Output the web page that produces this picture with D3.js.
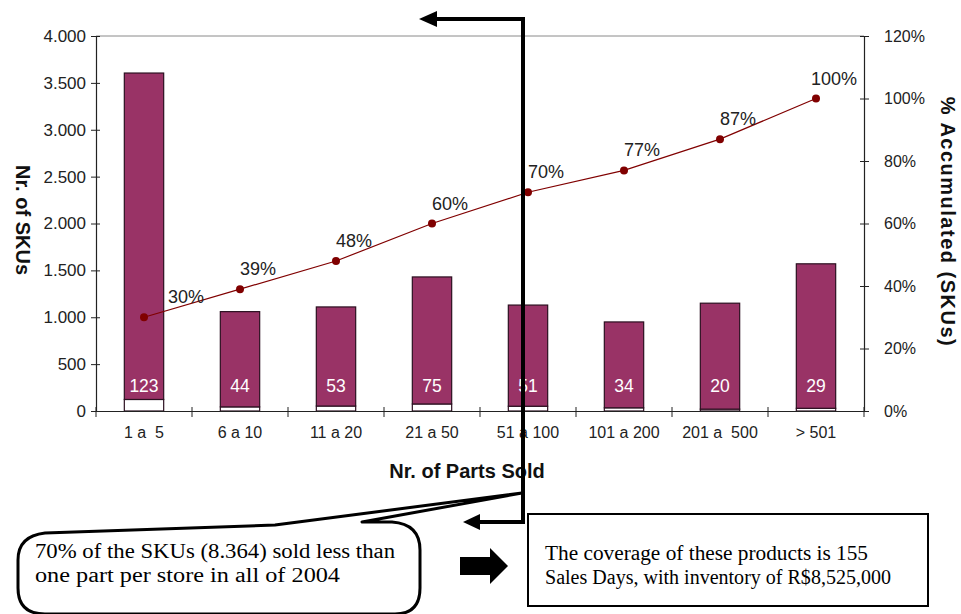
<!DOCTYPE html>
<html>
<head>
<meta charset="utf-8">
<script src="https://cdn.jsdelivr.net/npm/d3@7"></script>
<style>
  body { margin: 0; background: #fff; }
  svg { display: block; font-family: "Liberation Sans", Arial, sans-serif; }
</style>
</head>
<body>
<svg id="chart" width="961" height="614"></svg>
<script>
// -------------- DATA ----------------- //
const categories = ["1 a  5", "6 a 10", "11 a 20", "21 a 50", "51 a 100", "101 a 200", "201 a  500", "> 501"];
const soldSKUs = [123, 44, 53, 75, 51, 34, 20, 29];            // white part, labelled
const otherSKUs = [3482, 1016, 1057, 1355, 1079, 916, 1130, 1541]; // purple part
const accumulated = [0.30, 0.39, 0.48, 0.60, 0.70, 0.77, 0.87, 1.00];
const leftTicks = [0, 500, 1000, 1500, 2000, 2500, 3000, 3500, 4000];
const rightTicks = [0, 0.2, 0.4, 0.6, 0.8, 1.0, 1.2];

// -------------- SETUP ----------------- //
const svg = d3.select("#chart");
const M = { left: 96, right: 864, top: 36, bottom: 411 };
const purple = "#993366";
const lineColor = "#800000";

const x = d3.scaleBand().domain(categories).range([M.left, M.right]).paddingInner(0.59).paddingOuter(0.295);
const y = d3.scaleLinear().domain([0, 4000]).range([M.bottom, M.top]);
const y2 = d3.scaleLinear().domain([0, 1.2]).range([M.bottom, M.top]);
const step = (M.right - M.left) / categories.length;
const cx = d => M.left + step * (categories.indexOf(d) + 0.5);

const ptFormat = d3.formatLocale({ decimal: ",", thousands: ".", grouping: [3], currency: ["R$", ""] }).format(",d");

// plot area top border
svg.append("line").attr("x1", M.left).attr("x2", M.right).attr("y1", M.top).attr("y2", M.top)
  .attr("stroke", "#8a8a8a").attr("stroke-width", 1);

// -------------- BARS ----------------- //
const rows = categories.map((c, i) => ({ cat: c, sold: soldSKUs[i], other: otherSKUs[i] }));
const stacked = d3.stack().keys(["sold", "other"])(rows);
const fills = { sold: "#ffffff", other: purple };

stacked.forEach(layer => {
  svg.append("g").selectAll("rect").data(layer).join("rect")
    .attr("x", d => cx(d.data.cat) - x.bandwidth() / 2)
    .attr("width", x.bandwidth())
    .attr("y", d => y(d[1]))
    .attr("height", d => y(d[0]) - y(d[1]))
    .attr("fill", fills[layer.key])
    .attr("stroke", "#2b1020")
    .attr("stroke-width", 1.2);
});

svg.append("g").selectAll("text").data(rows).join("text")
  .attr("x", d => cx(d.cat))
  .attr("y", y(0) - 19)
  .attr("text-anchor", "middle")
  .attr("fill", "#fff")
  .attr("font-size", 17.5)
  .text(d => d.sold);

// -------------- AXES ----------------- //
const gl = svg.append("g").attr("transform", `translate(${M.left},0)`)
  .call(d3.axisLeft(y).tickValues(leftTicks).tickFormat(ptFormat).tickSize(0).tickPadding(10));
gl.select(".domain").attr("stroke", "#222").attr("stroke-width", 1.2);
gl.selectAll(".tick line").attr("x1", -5).attr("x2", 4).attr("stroke", "#222");
gl.selectAll(".tick text").attr("font-size", 17).attr("fill", "#222").attr("font-family", "Liberation Sans, Arial");

const gr = svg.append("g").attr("transform", `translate(${M.right},0)`)
  .call(d3.axisRight(y2).tickValues(rightTicks).tickFormat(d3.format(".0%")).tickSize(0).tickPadding(20));
gr.select(".domain").attr("stroke", "#222").attr("stroke-width", 1.2);
gr.selectAll(".tick line").attr("x1", -4).attr("x2", 5).attr("stroke", "#222");
gr.selectAll(".tick text").attr("font-size", 16).attr("fill", "#222").attr("font-family", "Liberation Sans, Arial");

const gb = svg.append("g").attr("transform", `translate(0,${M.bottom})`)
  .call(d3.axisBottom(x).tickSize(0).tickPadding(16));
gb.select(".domain").attr("stroke", "#222").attr("stroke-width", 1.2);
gb.selectAll(".tick").attr("transform", d => `translate(${cx(d)},0)`);
gb.selectAll(".tick text").attr("font-size", 16).attr("fill", "#222")
  .attr("font-family", "Liberation Sans, Arial").style("white-space", "pre");
// tick marks between categories
gb.append("g").selectAll("line").data(d3.range(categories.length + 1)).join("line")
  .attr("x1", i => M.left + i * step).attr("x2", i => M.left + i * step)
  .attr("y1", -4).attr("y2", 6).attr("stroke", "#222");

// axis titles
svg.append("text").attr("transform", "translate(16,220) rotate(90)")
  .attr("text-anchor", "middle").attr("font-weight", "bold").attr("font-size", 20).attr("fill", "#111")
  .text("Nr. of SKUs");
svg.append("text").attr("transform", "translate(941,222) rotate(90)")
  .attr("text-anchor", "middle").attr("font-weight", "bold").attr("font-size", 20).attr("fill", "#111")
  .attr("letter-spacing", 1.5)
  .text("% Accumulated (SKUs)");
svg.append("text").attr("x", 467).attr("y", 478)
  .attr("text-anchor", "middle").attr("font-weight", "bold").attr("font-size", 20).attr("fill", "#111")
  .text("Nr. of Parts Sold");

// -------------- LINE ----------------- //
const pts = categories.map((c, i) => ({ cat: c, v: accumulated[i] }));
svg.append("path").datum(pts)
  .attr("fill", "none").attr("stroke", lineColor).attr("stroke-width", 1.2)
  .attr("d", d3.line().x(d => cx(d.cat)).y(d => y2(d.v)));
svg.append("g").selectAll("circle").data(pts).join("circle")
  .attr("cx", d => cx(d.cat)).attr("cy", d => y2(d.v)).attr("r", 4).attr("fill", lineColor);
svg.append("g").selectAll("text").data(pts).join("text")
  .attr("x", (d, i) => cx(d.cat) + (i === 0 ? 42 : 18))
  .attr("y", d => y2(d.v) - 14)
  .attr("text-anchor", "middle").attr("font-size", 18).attr("fill", "#222")
  .text(d => d3.format(".0%")(d.v));

// -------------- ANNOTATIONS ----------------- //
const notes = svg.append("g").attr("font-family", "Liberation Serif, Times New Roman, serif");

// speech bubble
notes.append("path")
  .attr("d", "M 275,525 L 522,493 L 362,522 L 392,522 Q 420,524 420,550 L 420,588 Q 420,614 395,614 L 45,614 Q 18,614 18,588 L 18,560 Q 18,536 45,533 Z")
  .attr("fill", "#fff").attr("stroke", "#000").attr("stroke-width", 3).attr("stroke-linejoin", "round");

function noteText(tx, ty, len, str) {
  notes.append("text").attr("x", tx).attr("y", ty).attr("font-size", 20)
    .attr("textLength", len).attr("lengthAdjust", "spacingAndGlyphs").text(str);
}
noteText(35, 558, 360, "70% of the SKUs (8.364) sold less than");
noteText(35, 582, 305, "one part per store in all of 2004");

// block arrow
notes.append("path")
  .attr("d", "M 460,557 L 490,557 L 490,548 L 508,566 L 490,584 L 490,575 L 460,575 Z")
  .attr("fill", "#000");

// right box
notes.append("rect").attr("x", 528).attr("y", 514).attr("width", 400).attr("height", 92)
  .attr("fill", "#fff").attr("stroke", "#000").attr("stroke-width", 2);
noteText(545, 560, 323, "The coverage of these products is 155");
noteText(545, 584, 346, "Sales Days, with inventory of R$8,525,000");

// big bracket arrow over the chart
notes.append("path").attr("d", "M 478,522 L 523,522 L 523,19 L 434,19")
  .attr("fill", "none").attr("stroke", "#000").attr("stroke-width", 4);
notes.append("path").attr("d", "M 419,19 L 437,11 L 437,27 Z").attr("fill", "#000");
notes.append("path").attr("d", "M 463,522 L 480,514 L 480,530 Z").attr("fill", "#000");
</script>
</body>
</html>
